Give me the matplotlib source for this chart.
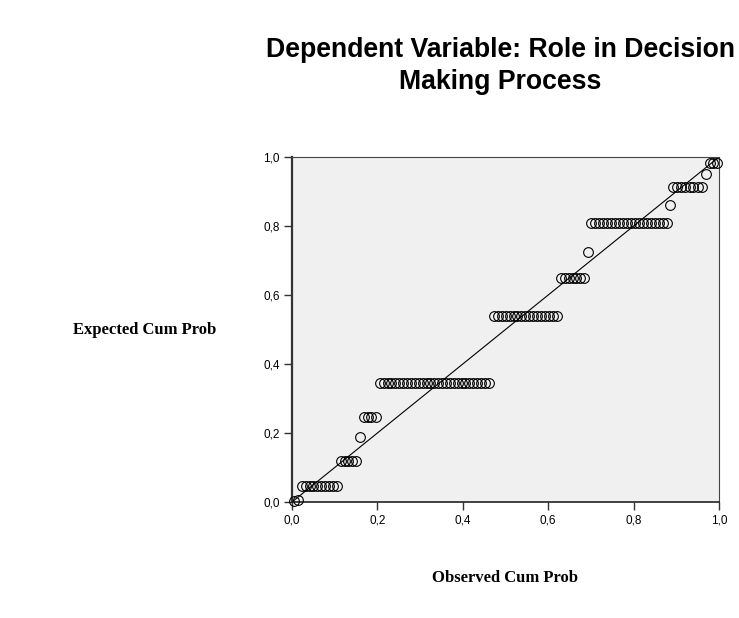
import matplotlib.pyplot as plt

# observed vs expected cumulative probability
observed = [
    0.005, 0.014,
    0.023, 0.032, 0.041, 0.050, 0.059, 0.068, 0.077, 0.086, 0.095, 0.105,
    0.114, 0.123, 0.132, 0.141, 0.150,
    0.159,
    0.168, 0.177, 0.186, 0.196,
    0.206, 0.215, 0.224, 0.233, 0.242, 0.251, 0.260, 0.269, 0.278, 0.288,
    0.297, 0.306, 0.315, 0.324, 0.333, 0.342, 0.351, 0.360, 0.369, 0.379,
    0.388, 0.397, 0.406, 0.415, 0.424, 0.433, 0.442, 0.451, 0.461,
    0.473, 0.482, 0.491, 0.500, 0.510, 0.519, 0.528, 0.537, 0.546, 0.556,
    0.565, 0.574, 0.583, 0.593, 0.602, 0.611, 0.621,
    0.630, 0.639, 0.648, 0.657, 0.666, 0.675, 0.684,
    0.693,
    0.700, 0.709, 0.719, 0.728, 0.737, 0.747, 0.756, 0.765, 0.775, 0.784,
    0.793, 0.803, 0.812, 0.821, 0.831, 0.840, 0.849, 0.859, 0.868, 0.878,
    0.885,
    0.892, 0.902, 0.911, 0.921, 0.931, 0.940, 0.950, 0.960,
    0.969,
    0.978, 0.987, 0.996,
]
expected = (
    [0.002, 0.006]
    + [0.047] * 10
    + [0.120] * 5
    + [0.188]
    + [0.247] * 4
    + [0.345] * 29
    + [0.540] * 17
    + [0.650] * 7
    + [0.725]
    + [0.810] * 20
    + [0.861]
    + [0.914] * 8
    + [0.950]
    + [0.983] * 3
)

tick_vals = [0.0, 0.2, 0.4, 0.6, 0.8, 1.0]
tick_labels = ["0,0", "0,2", "0,4", "0,6", "0,8", "1,0"]

W, H = 739, 618
fig = plt.figure(figsize=(W / 100, H / 100), dpi=100)
ax = fig.add_axes([292 / W, (H - 502) / H, 427 / W, 345 / H])
ax.set_facecolor("#f0f0f0")

ax.plot([0, 1], [0, 1], color="black", lw=0.8, zorder=2)
ax.plot(observed, expected, linestyle="none", marker="o", markersize=7,
        markerfacecolor="none", markeredgecolor="black", markeredgewidth=0.8,
        clip_on=False, zorder=3)

ax.set_xlim(0, 1)
ax.set_ylim(0, 1)
ax.set_xticks(tick_vals)
ax.set_xticklabels(tick_labels, family="Liberation Sans", fontsize=8.5)
ax.set_yticks(tick_vals)
ax.set_yticklabels(tick_labels, family="Liberation Sans", fontsize=8.5)
ax.tick_params(direction="out", length=6, width=1, color="#333333", pad=3)

ax.spines["left"].set_linewidth(1.6)
ax.spines["left"].set_color("#333333")
ax.spines["bottom"].set_linewidth(1.2)
ax.spines["bottom"].set_color("#222222")
for s in ["top", "right"]:
    ax.spines[s].set_linewidth(0.8)
    ax.spines[s].set_color("#444444")

fig.text(500 / W, 1 - 66 / H, "Dependent Variable: Role in Decision\nMaking Process",
         ha="center", va="center", family="Liberation Sans", fontweight="bold",
         fontsize=19.2, linespacing=1.3)
fig.text(145 / W, 1 - 330 / H, "Expected Cum Prob", ha="center", va="center",
         family="Liberation Serif", fontweight="bold", fontsize=12)
fig.text(505 / W, 1 - 578 / H, "Observed Cum Prob", ha="center", va="center",
         family="Liberation Serif", fontweight="bold", fontsize=12)

fig.savefig("out.png", dpi=100)
